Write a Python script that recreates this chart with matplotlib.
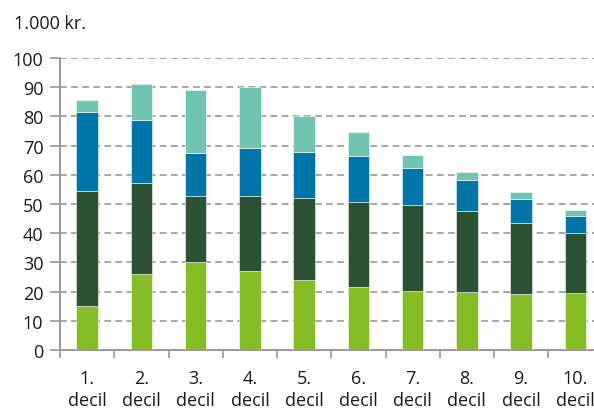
import matplotlib
matplotlib.use("Agg")
import matplotlib.pyplot as plt
import numpy as np

categories = ["1.\ndecil", "2.\ndecil", "3.\ndecil", "4.\ndecil", "5.\ndecil",
              "6.\ndecil", "7.\ndecil", "8.\ndecil", "9.\ndecil", "10.\ndecil"]
# cumulative tops
light_green = [15.1, 25.9, 30.1, 27.0, 24.1, 21.5, 20.3, 20.0, 19.1, 19.4]
dark_top = [54.3, 57.1, 52.6, 52.6, 51.9, 50.6, 49.5, 47.5, 43.5, 40.0]
blue_top = [81.6, 78.9, 67.6, 69.3, 67.9, 66.4, 62.2, 58.2, 51.8, 45.8]
teal_top = [85.5, 91.1, 88.9, 90.0, 80.0, 74.5, 66.8, 60.8, 54.1, 47.8]

dark_green = list(np.array(dark_top) - np.array(light_green))
blue = list(np.array(blue_top) - np.array(dark_top))
teal = list(np.array(teal_top) - np.array(blue_top))

colors = ["#86bc25", "#2c5234", "#0076a8", "#72c4b2"]

plt.rcParams['font.family'] = ['Open Sans', 'DejaVu Sans']

fig = plt.figure(figsize=(5.94, 4.10), dpi=100)
ax = fig.add_axes([60/594, 59/410, 542.5/594, 292/410])

x = np.arange(len(categories))
bottom = np.zeros(len(categories))
for vals, c in zip([light_green, dark_green, blue, teal], colors):
    ax.bar(x, vals, width=0.4, bottom=bottom, color=c, edgecolor=(1, 1, 1, 0.6),
           linewidth=0.6, zorder=3)
    bottom += np.array(vals)

ax.set_xlim(-0.5, len(categories) - 0.5)
ax.set_ylim(0, 100)
ax.set_yticks(range(0, 101, 10))
ax.yaxis.grid(True, color="#a6a6a6", linewidth=1.4, linestyle=(0, (3.5, 2.2)), zorder=0)
ax.set_axisbelow(True)

ax.set_xticks(x)
ax.set_xticklabels(categories, fontsize=13, color="#1a1a1a", linespacing=1.3)
ax.set_xticks(np.arange(-0.5, len(categories)), minor=True)
ax.tick_params(axis='x', which='major', length=0, pad=13.5)
ax.tick_params(axis='x', which='minor', length=6, width=1.2, color="#999999", direction='out')
ax.tick_params(axis='y', length=7, width=1.2, color="#999999", labelsize=13,
               labelcolor="#1a1a1a", pad=5)

for s in ["top", "right"]:
    ax.spines[s].set_visible(False)
for s in ["left", "bottom"]:
    ax.spines[s].set_color("#999999")
    ax.spines[s].set_linewidth(1.4)

fig.text(14/594, 1 - 24/410, "1.000 kr.", fontsize=13, color="#1a1a1a", va="center", ha="left")

fig.savefig("out.png", dpi=100)
